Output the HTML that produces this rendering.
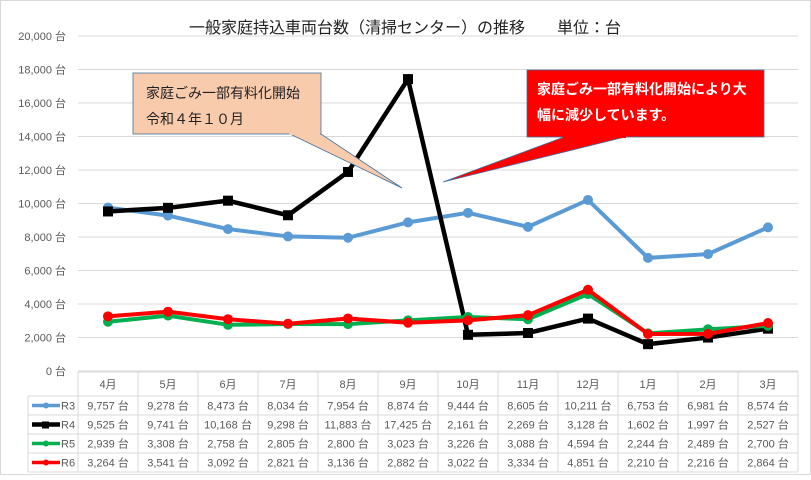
<!DOCTYPE html>
<html><head><meta charset="utf-8"><style>
body{margin:0;background:#fff;}
svg text{font-family:"Liberation Sans","Noto Sans CJK JP",sans-serif;}
</style></head><body>
<svg width="811" height="475" viewBox="0 0 811 475" xmlns="http://www.w3.org/2000/svg">
<rect x="0.5" y="0.5" width="810" height="474" fill="#fff" stroke="#d9d9d9"/>
<text x="405" y="33" font-size="16" text-anchor="middle" fill="#222">一般家庭持込車両台数（清掃センター）の推移　　単位：台</text>
<g id="grid"></g>
<g id="ylabels"></g>
<g id="lines"></g>
<g id="table"></g>
<g>
<polygon points="290,134 321,134 402,188" fill="#f8cbad" stroke="#41719c" stroke-width="0.8"/>
<rect x="133" y="73" width="188" height="61" fill="#f8cbad" stroke="#41719c" stroke-width="0.8"/>
<rect x="289" y="130" width="31" height="5" fill="#f8cbad"/>
<text x="146" y="98" font-size="14" fill="#222">家庭ごみ一部有料化開始</text>
<text x="146" y="124" font-size="14" fill="#222">令和４年１０月</text>
</g>
<g>
<polygon points="564,137 625,137 443,182" fill="#ff0000" stroke="#41719c" stroke-width="0.8"/>
<rect x="527" y="70" width="237" height="67" fill="#ff0000" stroke="#41719c" stroke-width="0.8"/>
<rect x="563" y="133" width="63" height="5" fill="#ff0000"/>
<text x="537" y="94" font-size="14" font-weight="bold" fill="#fff">家庭ごみ一部有料化開始により大</text>
<text x="537" y="120" font-size="14" font-weight="bold" fill="#fff">幅に減少しています。</text>
</g>
</svg>
<script>
const categories=["4月","5月","6月","7月","8月","9月","10月","11月","12月","1月","2月","3月"];
const seriesNames=["R3","R4","R5","R6"];
const r3=[9757,9278,8473,8034,7954,8874,9444,8605,10211,6753,6981,8574];
const r4=[9525,9741,10168,9298,11883,17425,2161,2269,3128,1602,1997,2527];
const r5=[2939,3308,2758,2805,2800,3023,3226,3088,4594,2244,2489,2700];
const r6=[3264,3541,3092,2821,3136,2882,3022,3334,4851,2210,2216,2864];
const yTicks=[0,2000,4000,6000,8000,10000,12000,14000,16000,18000,20000];
const colors=["#5b9bd5","#000000","#00b050","#ff0000"];
const NS="http://www.w3.org/2000/svg";
const X0=78,CW=60,Y0=371,YMAX=20000,YTOP=36;
function xs(i){return X0+CW*i+CW/2;}
function ys(v){return Y0-(v/YMAX)*(Y0-YTOP);}
function mk(tag,attrs,parent){const e=document.createElementNS(NS,tag);for(const k in attrs)e.setAttribute(k,attrs[k]);parent.appendChild(e);return e;}
const grid=document.getElementById('grid'),yl=document.getElementById('ylabels'),ln=document.getElementById('lines'),tb=document.getElementById('table');
yTicks.forEach(t=>{
 const l=mk('line',{x1:X0,x2:X0+CW*12,y1:ys(t),y2:ys(t),stroke:'#d9d9d9','stroke-width':1},grid);
 
 
 const tx=mk('text',{x:66,y:ys(t)+4,'font-size':11,'text-anchor':'end',fill:'#595959'},yl);
 tx.textContent=t.toLocaleString('en-US')+' 台';
 
 
});
const all=[r3,r4,r5,r6];
all.forEach((s,k)=>{
 const pts=s.map((v,i)=>xs(i)+','+ys(v)).join(' ');
 const p=mk('polyline',{points:pts,fill:'none',stroke:colors[k],'stroke-width':k==1?4.5:4,'stroke-linejoin':'miter'},ln);
 
 
 s.forEach((v,i)=>{
  let m;
  if(k==1){m=mk('rect',{x:xs(i)-5,y:ys(v)-5,width:10,height:10,fill:'#000'},ln);}
  else{m=mk('circle',{cx:xs(i),cy:ys(v),r:5,fill:colors[k]},ln);}
  
  
 });
});
// table
const TT=372,HH=24,RH=19,TL=28,TR=X0+CW*12;
const bottom=TT+HH+RH*4;
mk('line',{x1:X0,x2:TR,y1:TT,y2:TT,stroke:'#d9d9d9'},tb);
for(let r=0;r<=4;r++){const y=TT+HH+RH*r;mk('line',{x1:TL,x2:TR,y1:y,y2:y,stroke:'#d9d9d9'},tb);}
mk('line',{x1:TL,x2:TL,y1:TT+HH,y2:bottom,stroke:'#d9d9d9'},tb);
for(let c=0;c<=12;c++){const x=X0+CW*c;mk('line',{x1:x,x2:x,y1:TT,y2:bottom,stroke:'#d9d9d9'},tb);}
categories.forEach((c,i)=>{
 const t=mk('text',{x:xs(i),y:TT+16,'font-size':11,'text-anchor':'middle',fill:'#595959'},tb);
 t.textContent=c;
 
 
});
all.forEach((s,k)=>{
 const cy=TT+HH+RH*k+RH/2;
 mk('line',{x1:32,x2:60,y1:cy,y2:cy,stroke:colors[k],'stroke-width':k==1?4.5:3.5},tb);
 if(k==1)mk('rect',{x:42,y:cy-3,width:7,height:7,fill:'#000'},tb);else mk('circle',{cx:46,cy:cy,r:3,fill:colors[k]},tb);
 const lg=mk('text',{x:61,y:cy+4,'font-size':11,fill:'#595959'},tb);
 lg.textContent=seriesNames[k];
 
 
 s.forEach((v,i)=>{
  const t=mk('text',{x:xs(i),y:cy+4,'font-size':11,'text-anchor':'middle',fill:'#595959'},tb);
  t.textContent=v.toLocaleString('en-US')+' 台';
  
  
 });
});
</script>
</body></html>
